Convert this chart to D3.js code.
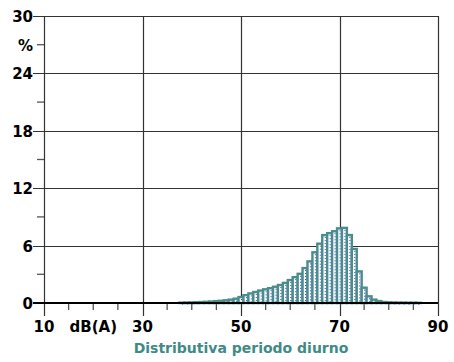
<!DOCTYPE html>
<html lang="it">
<meta charset="utf-8">
<style>
body { margin: 0; background: #fff; }
.lbl { font: bold 15px "DejaVu Sans", Verdana, sans-serif; fill: #000; }
.title { font: bold 14px "DejaVu Sans", Verdana, sans-serif; fill: #3f8a86; }
</style>
<body>
<svg width="454" height="362"></svg>
<script src="https://d3js.org/d3.v7.min.js"></script>
<script>

// bins of 1 dB centred on each value
var levels = d3.range(38, 87);
var percent = [0.04, 0.05, 0.06, 0.08, 0.1, 0.12, 0.15, 0.19, 0.23, 0.28, 0.35, 0.45,
  0.62, 0.82, 1.0, 1.15, 1.3, 1.43, 1.55, 1.7, 1.88, 2.1, 2.4, 2.7, 3.05, 3.65,
  4.35, 5.3, 6.2, 7.1, 7.3, 7.5, 7.8, 7.85, 7.1, 5.65, 3.3, 1.6, 0.7, 0.35, 0.2,
  0.1, 0.07, 0.05, 0.04, 0.04, 0.03, 0.03, 0.02];

var xLabels = [[10, "10"], [20, "dB(A)"], [30, "30"], [50, "50"], [70, "70"], [90, "90"]];
var yLabels = [[30, "30"], [27, "%"], [24, "24"], [18, "18"], [12, "12"], [6, "6"], [0, "0"]];
var xGrid = [30, 50, 70];
var yGrid = [6, 12, 18, 24];
var title = "Distributiva periodo diurno";

var svg = d3.select("svg");

var x = d3.scaleLinear().domain([10, 90]).range([44, 438]);
var y = d3.scaleLinear().domain([0, 30]).range([303, 16]);

// minor ticks
svg.append("g").selectAll("line")
    .data(d3.range(15, 90, 5).filter(function(d) { return d % 20 != 10; }))
  .enter().append("line")
    .attr("x1", function(d) { return x(d); }).attr("x2", function(d) { return x(d); })
    .attr("y1", y(0)).attr("y2", y(0) + 7)
    .attr("stroke", "#555").attr("stroke-width", 1.3);

svg.append("g").selectAll("line")
    .data(d3.range(3, 30, 6))
  .enter().append("line")
    .attr("x1", x(10) - 7).attr("x2", x(10))
    .attr("y1", function(d) { return y(d); }).attr("y2", function(d) { return y(d); })
    .attr("stroke", "#555").attr("stroke-width", 1.3);

// grid
svg.append("g").selectAll("line")
    .data(yGrid.concat([30]))
  .enter().append("line")
    .attr("x1", x(10) - 11).attr("x2", x(90))
    .attr("y1", function(d) { return Math.round(y(d)) + 0.5; })
    .attr("y2", function(d) { return Math.round(y(d)) + 0.5; })
    .attr("stroke", "#333").attr("stroke-width", 1.2);

svg.append("g").selectAll("line")
    .data(xGrid.concat([10, 90]))
  .enter().append("line")
    .attr("x1", function(d) { return Math.round(x(d)) + 0.5; })
    .attr("x2", function(d) { return Math.round(x(d)) + 0.5; })
    .attr("y1", y(30)).attr("y2", y(0) + 13)
    .attr("stroke", "#333").attr("stroke-width", 1.2);

// bars
var w = x(11) - x(10);
var bars = svg.append("g");
bars.selectAll("rect")
    .data(levels)
  .enter().append("rect")
    .attr("x", function(d) { return x(d - 0.5); })
    .attr("width", w)
    .attr("y", function(d, i) { return y(percent[i]); })
    .attr("height", function(d, i) { return y(0) - y(percent[i]); })
    .attr("fill", "#fff")
    .attr("stroke", "#4a8c8a").attr("stroke-width", 2.4);

bars.selectAll("line")
    .data(levels)
  .enter().append("line")
    .attr("x1", function(d) { return x(d) + 0.5; })
    .attr("x2", function(d) { return x(d) + 0.5; })
    .attr("y1", function(d, i) { return y(percent[i]) + 2; })
    .attr("y2", y(0))
    .attr("stroke", "#2a3cf0").attr("stroke-width", 1)
    .attr("stroke-dasharray", "1 2");

// zero axis
svg.append("line")
    .attr("x1", x(10) - 11).attr("x2", x(90))
    .attr("y1", y(0)).attr("y2", y(0))
    .attr("stroke", "#000").attr("stroke-width", 2);

// labels
svg.append("g").selectAll("text")
    .data(yLabels)
  .enter().append("text")
    .attr("class", "lbl")
    .attr("x", 33)
    .attr("y", function(d) { return y(d[0]) + 6; })
    .attr("text-anchor", "end")
    .text(function(d) { return d[1]; });

svg.append("g").selectAll("text")
    .data(xLabels)
  .enter().append("text")
    .attr("class", "lbl")
    .attr("x", function(d) { return x(d[0]); })
    .attr("y", 332)
    .attr("text-anchor", "middle")
    .text(function(d) { return d[1]; });

svg.append("text")
    .attr("class", "title")
    .attr("x", x(50))
    .attr("y", 353)
    .attr("text-anchor", "middle")
    .text(title);

</script>
</body>
</html>
